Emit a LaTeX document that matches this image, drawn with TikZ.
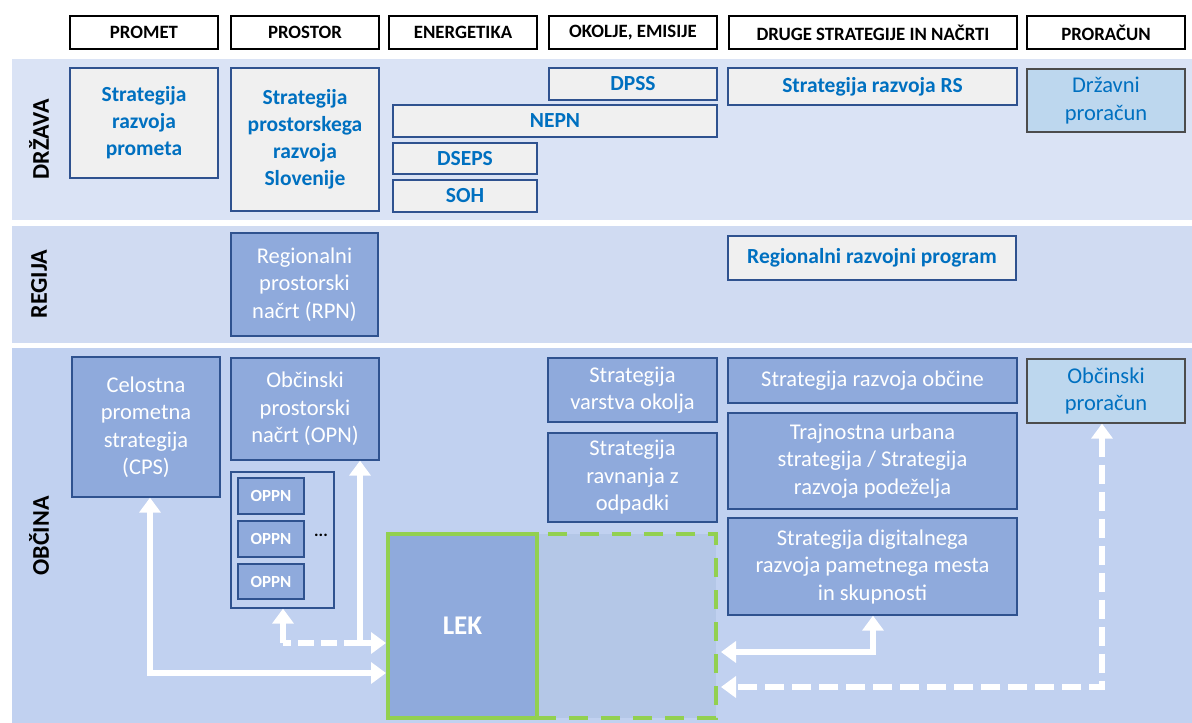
\documentclass[tikz,border=0pt]{standalone}
\usepackage{fontspec}
\setmainfont{Carlito}
\usetikzlibrary{arrows.meta}
\definecolor{bordblue}{HTML}{2F528F}
\definecolor{mblue}{HTML}{8FAADC}
\definecolor{lgray}{HTML}{F0F0F0}
\definecolor{tblue}{HTML}{0070C0}
\definecolor{lblue}{HTML}{BDD7EE}
\definecolor{dashfill}{HTML}{B4C7E7}
\definecolor{lgreen}{HTML}{92D050}
\definecolor{bandA}{HTML}{DAE3F5}
\definecolor{bandB}{HTML}{D0DBF2}
\definecolor{bandC}{HTML}{C1D1F0}
\tikzset{
  hdr/.style={draw=black, line width=1.3pt, fill=white, inner sep=0pt,
    font=\bfseries\fontsize{18.8}{20}\selectfont},
  gbox/.style={draw=bordblue, line width=1.3pt, fill=lgray, text=tblue, inner sep=0pt,
    align=center, font=\bfseries\fontsize{21.5}{27}\selectfont},
  mbox/.style={draw=bordblue, line width=1.3pt, fill=mblue, text=white, inner sep=0pt,
    align=center, font=\fontsize{22.5}{27.5}\selectfont},
  pbox/.style={draw=black!70, line width=1.3pt, fill=lblue, text=tblue, inner sep=0pt,
    align=center, font=\fontsize{22.5}{27.5}\selectfont},
  oppnbox/.style={draw=bordblue, line width=1.3pt, fill=mblue, text=white, inner sep=0pt,
    font=\bfseries\fontsize{17}{18}\selectfont, minimum width=66pt, minimum height=36pt},
  bandlabel/.style={rotate=90, font=\bfseries\fontsize{24}{28}\selectfont, text=black},
  wline/.style={draw=white, line width=6pt, line join=miter},
  wtips/.style={{Triangle[length=15pt,width=21pt]}-{Triangle[length=15pt,width=21pt]}},
  wtip/.style={-{Triangle[length=15pt,width=21pt]}},
  wdash/.style={dash pattern=on 19pt off 8pt},
}
\begin{document}
\begin{tikzpicture}[x=1pt,y=-1pt]
\useasboundingbox (0,0) rectangle (1192,723);
\fill[white] (0,0) rectangle (1192,723);
% bands
\fill[bandA] (12,59) rectangle (1192,220);
\fill[bandB] (12,226) rectangle (1192,343);
\fill[bandC] (12,348) rectangle (1192,723);
\node[bandlabel] (lDrzava) at (39,139) {DRŽAVA};
\node[bandlabel] (lRegija) at (39,284) {REGIJA};
\node[bandlabel] (lObcina) at (39,536) {OBČINA};
% headers
\node[hdr, minimum width=148pt, minimum height=33pt] (hPromet) at (144,32.5) {PROMET};
\node[hdr, minimum width=148pt, minimum height=33pt] (hProstor) at (305,32.5) {PROSTOR};
\node[hdr, minimum width=148pt, minimum height=33pt] (hEnerg) at (463,32.5) {ENERGETIKA};
\node[hdr, minimum width=168pt, minimum height=33pt] (hOkolje) at (633,32.5) {OKOLJE, EMISIJE};
\node[hdr, minimum width=288pt, minimum height=33pt] (hDruge) at (873,32.5) {DRUGE STRATEGIJE IN NAČRTI};
\node[hdr, minimum width=158pt, minimum height=33pt] (hPror) at (1106,32.5) {PRORAČUN};
% drzava
\node[gbox, minimum width=148pt, minimum height=110pt] (srp) at (144,123) {Strategija\\razvoja\\prometa};
\node[gbox, minimum width=148pt, minimum height=143pt] (sprs) at (305,139.5) {Strategija\\prostorskega\\razvoja\\Slovenije};
\node[gbox, minimum width=168pt, minimum height=32pt] (dpss) at (633,84) {DPSS};
\node[gbox, minimum width=324pt, minimum height=32pt] (nepn) at (555,121) {NEPN};
\node[gbox, minimum width=144pt, minimum height=31pt] (dseps) at (465,158.5) {DSEPS};
\node[gbox, minimum width=144pt, minimum height=32pt] (soh) at (465,196) {SOH};
\node[gbox, minimum width=289pt, minimum height=37pt] (srs) at (872.5,86.5) {Strategija razvoja RS};
\node[pbox, minimum width=158pt, minimum height=63pt] (dpr) at (1106,100.5) {Državni\\proračun};
% regija
\node[mbox, minimum width=147pt, minimum height=103pt] (rpn) at (304.5,284.5) {Regionalni\\prostorski\\načrt (RPN)};
\node[gbox, minimum width=288pt, minimum height=44pt] (rrp) at (872,258) {Regionalni razvojni program};
% obcina
\node[mbox, minimum width=148pt, minimum height=140pt] (cps) at (146,427) {Celostna\\prometna\\strategija\\(CPS)};
\node[mbox, minimum width=148pt, minimum height=102pt] (opn) at (305,409) {Občinski\\prostorski\\načrt (OPN)};
\node[draw=bordblue, line width=1.3pt, minimum width=103pt, minimum height=136pt, inner sep=0pt] (oppngrp) at (282.5,540) {};
\node[oppnbox] (oppn1) at (271,496) {OPPN};
\node[oppnbox] (oppn2) at (271,539) {OPPN};
\node[oppnbox, minimum height=35pt] (oppn3) at (271,581.5) {OPPN};
\node[font=\bfseries\fontsize{17}{18}\selectfont, inner sep=0pt] (dots) at (321,535) {...};
\node[mbox, minimum width=169pt, minimum height=64pt] (svo) at (632.5,390) {Strategija\\varstva okolja};
\node[mbox, minimum width=169pt, minimum height=89pt] (sro) at (632.5,477.5) {Strategija\\ravnanja z\\odpadki};
\node[mbox, minimum width=289pt, minimum height=45pt] (sob) at (872.5,380.5) {Strategija razvoja občine};
\node[mbox, minimum width=289pt, minimum height=96pt] (tus) at (872.5,461) {Trajnostna urbana\\strategija / Strategija\\razvoja podeželja};
\node[mbox, minimum width=289pt, minimum height=97pt] (sdr) at (872.5,566.5) {Strategija digitalnega\\razvoja pametnega mesta\\in skupnosti};
\node[pbox, minimum width=158pt, minimum height=64pt] (opr) at (1106,391) {Občinski\\proračun};
% LEK
\node[draw=lgreen, line width=4pt, dash pattern=on 19pt off 13pt, fill=dashfill, minimum width=179pt, minimum height=184pt, inner sep=0pt] (ext) at (626.5,626) {};
\node[draw=lgreen, line width=4pt, fill=mblue, text=white, minimum width=149pt, minimum height=184pt, inner sep=0pt,
  font=\bfseries\fontsize{27}{30}\selectfont] (lek) at (462.5,626) {LEK};
% arrows
\coordinate (c1) at (150,673);
\coordinate (c2) at (360,643);
\coordinate (c3) at (283,643);
\coordinate (c4) at (873,652);
\coordinate (c5) at (1102,687);
\draw[wline, wtips] (cps.south -| c1) -- (c1) -- (c1 -| lek.west);
\draw[wline, wtips] (opn.south -| c2) -- (c2) -- (c2 -| lek.west);
\draw[wline, wdash, dash pattern=on 16pt off 7pt] (c2) -- (c3);
\draw[wline, wtip] (c3) -- (oppngrp.south -| c3);
\draw[wline, wtips] (sdr.south -| c4) -- (c4) -- ([xshift=3pt]c4 -| ext.east);
\draw[wline, wtips, wdash] (opr.south -| c5) -- (c5) -- ([xshift=3pt]c5 -| ext.east);
\end{tikzpicture}
\end{document}
